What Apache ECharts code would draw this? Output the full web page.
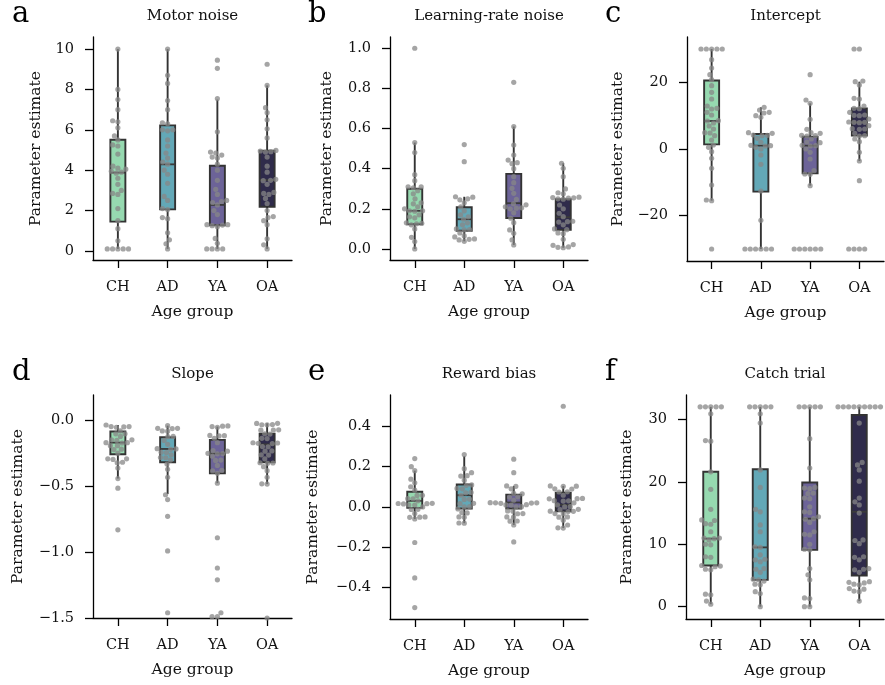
<!DOCTYPE html>
<html><head><meta charset="utf-8">
<script src="https://cdn.jsdelivr.net/npm/echarts@6/dist/echarts.min.js"></script>
<style>html,body{margin:0;padding:0;background:#fff}#c{width:885px;height:685px}</style>
</head><body><div id="c"></div>
<script>
// ---------- DATA ----------
const categories = ['CH', 'AD', 'YA', 'OA'];
const panelTitles = ['Motor noise', 'Learning-rate noise', 'Intercept', 'Slope', 'Reward bias', 'Catch trial'];
const panelLetters = ['a', 'b', 'c', 'd', 'e', 'f'];

// a: Motor noise
const motorCH = [10.0, 8.0, 7.5, 7.0, 6.45, 6.4, 6.1, 5.7, 5.5, 5.25, 5.2, 4.8, 4.2, 4.1, 4.05, 3.95, 3.9, 3.85, 3.6, 3.3, 3.0, 2.85, 2.8, 2.1, 1.5, 1.1, 0.5, 0.1, 0.1, 0.1, 0.1, 0.1];
const motorAD = [10.0, 8.7, 8.3, 7.45, 7.0, 6.35, 6.3, 6.0, 6.0, 5.95, 5.5, 5.2, 4.85, 4.6, 4.4, 4.3, 4.0, 3.8, 3.35, 2.7, 2.5, 2.1, 2.05, 1.65, 1.6, 0.9, 0.55, 0.35, 0.1];
const motorYA = [9.45, 9.05, 7.55, 5.9, 4.9, 4.85, 4.75, 4.65, 4.6, 4.3, 4.0, 3.5, 3.05, 2.8, 2.5, 2.45, 2.4, 2.28, 2.0, 1.8, 1.3, 1.3, 1.28, 1.25, 1.2, 0.62, 0.38, 0.1, 0.1, 0.1, 0.1];
const motorOA = [9.25, 8.2, 7.1, 6.85, 6.5, 6.05, 5.6, 4.98, 4.95, 4.92, 4.9, 4.65, 4.2, 3.9, 3.55, 3.5, 3.48, 3.3, 2.9, 2.85, 2.8, 2.6, 2.35, 2.0, 1.7, 1.65, 1.5, 1.3, 0.6, 0.3, 0.1];
// box stats: [low whisker, Q1, median, Q3, high whisker]
const motorBox = [[0.1, 1.45, 3.88, 5.51, 10.0], [0.1, 2.06, 4.29, 6.22, 10.0], [0.1, 1.27, 2.28, 4.22, 7.5], [0.1, 2.19, 3.51, 4.97, 8.2]];
const motorTicks = [0, 2, 4, 6, 8, 10];

// b: Learning-rate noise
const lrCH = [1.0, 0.53, 0.48, 0.37, 0.34, 0.31, 0.31, 0.305, 0.29, 0.275, 0.25, 0.23, 0.225, 0.21, 0.2, 0.19, 0.19, 0.188, 0.17, 0.16, 0.155, 0.13, 0.128, 0.125, 0.12, 0.1, 0.058, 0.037, 0.0];
const lrAD = [0.52, 0.435, 0.26, 0.258, 0.25, 0.245, 0.23, 0.21, 0.19, 0.17, 0.16, 0.148, 0.13, 0.12, 0.1, 0.097, 0.095, 0.08, 0.065, 0.06, 0.05, 0.048, 0.045, 0.038];
const lrYA = [0.83, 0.61, 0.518, 0.468, 0.443, 0.43, 0.425, 0.4, 0.36, 0.33, 0.302, 0.277, 0.247, 0.225, 0.22, 0.21, 0.205, 0.203, 0.2, 0.18, 0.153, 0.131, 0.095, 0.078, 0.045, 0.02];
const lrOA = [0.427, 0.402, 0.36, 0.299, 0.28, 0.275, 0.258, 0.256, 0.255, 0.254, 0.25, 0.248, 0.219, 0.2, 0.178, 0.161, 0.138, 0.136, 0.134, 0.12, 0.1, 0.096, 0.08, 0.076, 0.048, 0.022, 0.018, 0.01, 0.008, 0.006];
const lrBox = [[0.0, 0.123, 0.19, 0.30, 0.53], [0.038, 0.091, 0.148, 0.208, 0.26], [0.02, 0.154, 0.228, 0.374, 0.61], [0.006, 0.095, 0.158, 0.248, 0.427]];
const lrTicks = [0.0, 0.2, 0.4, 0.6, 0.8, 1.0];

// c: Intercept
const intCH = [30, 30, 30, 30, 30, 26.8, 24.3, 22.3, 20.8, 19.0, 17.0, 15.0, 12.9, 12.2, 12.0, 11.0, 10.2, 8.5, 8.4, 7.8, 6.9, 6.0, 4.9, 4.8, 4.0, 2.7, 1.2, 0.5, -0.8, -2.8, -5.8, -10.8, -15.3, -15.5, -30];
const intAD = [12.5, 11.7, 11.0, 10.8, 10.0, 9.5, 4.9, 4.7, 4.2, 4.1, 4.0, 3.2, 2.0, 1.1, 1.0, 0.9, 0.5, 0.0, -1.8, -4.6, -12.6, -21.4, -30, -30, -30, -30, -30, -30];
const intYA = [22.3, 14.7, 13.7, 8.9, 5.9, 4.9, 4.7, 4.1, 4.0, 3.9, 3.0, 2.1, 1.9, 1.1, 1.0, 0.9, 0.0, -1.0, -3.0, -6.5, -7.5, -7.6, -11.0, -30, -30, -30, -30, -30, -30];
const intOA = [30, 30, 20.4, 20.2, 19.2, 15.2, 15.0, 12.9, 12.2, 12.1, 11.0, 10.2, 10.1, 10.0, 9.0, 8.1, 8.0, 8.0, 7.9, 7.0, 6.1, 6.0, 5.9, 4.7, 4.0, 3.9, 3.0, 2.2, -1.0, -3.6, -9.5, -30, -30, -30, -30];
const intBox = [[-15.5, 1.4, 8.4, 20.55, 30], [-30, -12.8, 1.0, 4.5, 12.5], [-11.0, -7.3, 1.0, 3.7, 13.7], [-3.6, 4.0, 8.0, 12.2, 20.2]];
const intTicks = [-20, 0, 20];

// d: Slope
const slopeCH = [-0.033, -0.045, -0.045, -0.048, -0.05, -0.078, -0.1, -0.1, -0.12, -0.146, -0.146, -0.15, -0.167, -0.167, -0.17, -0.19, -0.19, -0.217, -0.22, -0.247, -0.29, -0.29, -0.295, -0.316, -0.32, -0.36, -0.44, -0.513, -0.83];
const slopeAD = [-0.038, -0.058, -0.058, -0.06, -0.078, -0.08, -0.12, -0.122, -0.15, -0.18, -0.213, -0.215, -0.218, -0.24, -0.242, -0.26, -0.28, -0.282, -0.3, -0.33, -0.37, -0.43, -0.563, -0.6, -0.727, -0.99, -1.46];
const slopeYA = [-0.04, -0.042, -0.045, -0.05, -0.112, -0.114, -0.116, -0.134, -0.167, -0.228, -0.232, -0.248, -0.25, -0.252, -0.27, -0.3, -0.302, -0.34, -0.378, -0.382, -0.4, -0.475, -0.89, -1.12, -1.21, -1.46, -1.49, -1.49];
const slopeOA = [-0.02, -0.021, -0.03, -0.031, -0.032, -0.07, -0.071, -0.072, -0.1, -0.102, -0.134, -0.136, -0.168, -0.17, -0.172, -0.174, -0.197, -0.199, -0.23, -0.232, -0.26, -0.262, -0.29, -0.32, -0.322, -0.324, -0.35, -0.38, -0.43, -0.48, -0.482, -1.5];
const slopeBox = [[-0.44, -0.255, -0.167, -0.083, -0.033], [-0.558, -0.316, -0.215, -0.126, -0.038], [-0.475, -0.4, -0.25, -0.146, -0.045], [-0.482, -0.316, -0.18, -0.1, -0.02]];
const slopeTicks = [-1.5, -1.0, -0.5, 0.0];

// e: Reward bias
const rewCH = [0.24, 0.2, 0.18, 0.138, 0.12, 0.1, 0.083, 0.058, 0.057, 0.041, 0.04, 0.03, 0.018, 0.017, 0.016, 0.015, 0.01, 0.009, 0.0, -0.012, -0.013, -0.033, -0.05, -0.051, -0.052, -0.06, -0.177, -0.353, -0.5];
const rewAD = [0.26, 0.19, 0.17, 0.155, 0.153, 0.133, 0.109, 0.107, 0.092, 0.09, 0.072, 0.07, 0.058, 0.039, 0.037, 0.018, 0.016, 0.001, 0.0, -0.01, -0.028, -0.03, -0.05, -0.052, -0.08, -0.081];
const rewYA = [0.237, 0.17, 0.104, 0.102, 0.09, 0.067, 0.065, 0.05, 0.049, 0.033, 0.021, 0.02, 0.02, 0.019, 0.018, 0.011, 0.01, 0.009, 0.001, 0.0, -0.02, -0.021, -0.033, -0.034, -0.05, -0.051, -0.07, -0.071, -0.09, -0.174];
const rewOA = [0.5, 0.104, 0.103, 0.102, 0.09, 0.089, 0.075, 0.074, 0.058, 0.042, 0.041, 0.04, 0.031, 0.03, 0.029, 0.02, 0.01, 0.001, 0.0, -0.012, -0.013, -0.021, -0.022, -0.023, -0.033, -0.034, -0.05, -0.051, -0.066, -0.09, -0.104, -0.105];
const rewBox = [[-0.06, -0.005, 0.03, 0.075, 0.18], [-0.081, -0.008, 0.058, 0.111, 0.252], [-0.09, -0.008, 0.022, 0.061, 0.104], [-0.105, -0.022, 0.01, 0.07, 0.104]];
const rewTicks = [-0.4, -0.2, 0.0, 0.2, 0.4];

// f: Catch trial
const catchCH = [32, 32, 32, 32, 32, 30.9, 26.6, 26.5, 21.6, 18.8, 15.6, 13.9, 13.8, 13.3, 13.2, 12.0, 11.0, 11.0, 10.9, 10.7, 10.0, 9.9, 8.0, 7.9, 6.6, 6.5, 6.4, 6.0, 5.9, 2.0, 1.9, 0.9, 0.4];
const catchAD = [32, 32, 32, 32, 32, 30.9, 29.4, 21.9, 19.1, 15.6, 15.2, 13.1, 12.0, 9.6, 9.5, 8.3, 7.6, 7.5, 7.2, 6.1, 6.0, 5.5, 4.4, 4.3, 4.1, 3.6, 3.5, 2.4, 2.1, 0.0];
const catchYA = [32, 32, 32, 32, 32, 26.9, 22.2, 19.1, 19.0, 18.9, 18.2, 18.1, 17.4, 17.3, 16.0, 15.2, 15.1, 14.4, 14.1, 14.0, 13.5, 12.0, 11.6, 11.5, 10.0, 9.2, 9.1, 6.1, 5.1, 4.3, 1.4, 1.3, 0.0, 0.0];
const catchOA = [32, 32, 32, 32, 32, 32, 32, 32, 32, 29.4, 23.1, 22.7, 21.9, 20.1, 17.4, 16.8, 16.3, 15.0, 10.7, 10.6, 10.1, 8.0, 7.9, 7.5, 6.1, 6.0, 5.9, 5.5, 4.0, 3.9, 3.8, 3.6, 3.5, 2.9, 2.8, 2.5, 2.4, 0.9];
const catchBox = [[0.4, 6.6, 10.9, 21.6, 32], [0.0, 4.3, 9.5, 22.0, 32], [0.0, 9.1, 14.1, 19.9, 32], [0.9, 5.0, 15.2, 30.7, 32]];
const catchTicks = [0, 10, 20, 30];

// ---------- STYLE / LAYOUT ----------
const groupColors = ['#96d9b0', '#63a8b7', '#6c6398', '#2f2b4b'];
const FONT = 'DejaVu Serif';
const grids = [
  {left: 93, top: 37, width: 199, height: 223},
  {left: 390, top: 37, width: 198, height: 223},
  {left: 687, top: 37, width: 197, height: 224},
  {left: 93, top: 395, width: 199, height: 223},
  {left: 390, top: 395, width: 198, height: 224},
  {left: 686, top: 395, width: 198, height: 224}
];
const yRanges = [[-0.45, 10.6], [-0.055, 1.056], [-33.6, 33.6], [-1.5, 0.195], [-0.557, 0.556], [-1.97, 33.9]];
const yNameGaps = [49, 55, 61, 67, 69, 51];
const decimals = [0, 1, 0, 1, 1, 0];

const panels = [
  {groups: [motorCH, motorAD, motorYA, motorOA], box: motorBox, ticks: motorTicks},
  {groups: [lrCH, lrAD, lrYA, lrOA], box: lrBox, ticks: lrTicks},
  {groups: [intCH, intAD, intYA, intOA], box: intBox, ticks: intTicks},
  {groups: [slopeCH, slopeAD, slopeYA, slopeOA], box: slopeBox, ticks: slopeTicks},
  {groups: [rewCH, rewAD, rewYA, rewOA], box: rewBox, ticks: rewTicks},
  {groups: [catchCH, catchAD, catchYA, catchOA], box: catchBox, ticks: catchTicks}
];

const DOT = 5.3;   // swarm spacing (px)
function swarm(values, pxPerUnit, d) {
  const idx = values.map((v, i) => i).sort((a, b) => values[a] - values[b]);
  const placed = [];
  const off = new Array(values.length).fill(0);
  for (const i of idx) {
    const y = values[i] * pxPerUnit;
    const near = placed.filter(p => Math.abs(p.y - y) < d);
    const cands = [0];
    near.forEach(p => {
      const dx = Math.sqrt(Math.max(0, d * d - (p.y - y) * (p.y - y)));
      cands.push(p.x + dx + 0.01, p.x - dx - 0.01);
    });
    cands.sort((a, b) => Math.abs(a) - Math.abs(b) || a - b);
    let x = 0;
    for (const c of cands) {
      if (near.every(p => (p.x - c) * (p.x - c) + (p.y - y) * (p.y - y) >= d * d - 0.05)) { x = c; break; }
    }
    placed.push({x, y});
    off[i] = x;
  }
  return off;
}

const fmt = (v, dec) => v.toFixed(dec).replace('-', '\u2212');

const gridOpt = [], xAxes = [], yAxes = [], series = [], graphics = [];
panels.forEach((p, k) => {
  const g = grids[k];
  gridOpt.push({left: g.left, top: g.top, width: g.width, height: g.height, containLabel: false});
  xAxes.push({
    type: 'category', gridIndex: k, data: categories, boundaryGap: true,
    axisLine: {show: true, onZero: false, lineStyle: {color: '#000', width: 1.3}},
    axisTick: {show: true, alignWithLabel: true, length: 8, lineStyle: {color: '#000', width: 1.3}},
    axisLabel: {color: '#111', fontFamily: FONT, fontSize: 14.5, margin: 20},
    splitLine: {show: false},
    name: 'Age group', nameLocation: 'middle', nameGap: 44,
    nameTextStyle: {color: '#111', fontFamily: FONT, fontSize: 15.5}
  });
  yAxes.push({
    type: 'value', gridIndex: k, min: yRanges[k][0], max: yRanges[k][1],
    axisLine: {show: true, onZero: false, lineStyle: {color: '#000', width: 1.3}},
    axisTick: {show: true, length: 8, customValues: p.ticks, lineStyle: {color: '#000', width: 1.3}},
    axisLabel: {color: '#111', fontFamily: FONT, fontSize: 14.5, margin: 19, customValues: p.ticks,
      formatter: (v) => fmt(v, decimals[k])},
    splitLine: {show: false},
    name: 'Parameter estimate', nameLocation: 'middle', nameGap: yNameGaps[k],
    nameTextStyle: {color: '#111', fontFamily: FONT, fontSize: 15.5}
  });
  // boxes
  series.push({
    type: 'custom', xAxisIndex: k, yAxisIndex: k, z: 2,
    data: p.box.map((b, i) => [i].concat(b)),
    encode: {x: 0, y: [1, 2, 3, 4, 5]},
    renderItem: function (params, api) {
      const c = api.value(0);
      const lo = api.coord([c, api.value(1)]);
      const q1 = api.coord([c, api.value(2)]);
      const md = api.coord([c, api.value(3)]);
      const q3 = api.coord([c, api.value(4)]);
      const hi = api.coord([c, api.value(5)]);
      const x = lo[0], h = 7.5, ec = '#333333';
      return {type: 'group', children: [
        {type: 'line', shape: {x1: x, y1: lo[1], x2: x, y2: q1[1]}, style: {stroke: ec, lineWidth: 1.9}},
        {type: 'line', shape: {x1: x, y1: q3[1], x2: x, y2: hi[1]}, style: {stroke: ec, lineWidth: 1.9}},
        {type: 'rect', shape: {x: x - h, y: q3[1], width: 2 * h, height: q1[1] - q3[1]},
          style: {fill: groupColors[params.dataIndex], stroke: ec, lineWidth: 1.9}},
        {type: 'line', shape: {x1: x - h, y1: md[1], x2: x + h, y2: md[1]}, style: {stroke: '#3a3a3a', lineWidth: 1.8}}
      ]};
    }
  });
  // swarm points
  const ppu = g.height / (yRanges[k][1] - yRanges[k][0]);
  const pts = [];
  p.groups.forEach((vals, gi) => {
    const off = swarm(vals, ppu, DOT);
    vals.forEach((v, j) => pts.push([gi, v, off[j]]));
  });
  series.push({
    type: 'custom', xAxisIndex: k, yAxisIndex: k, z: 3,
    data: pts, encode: {x: 0, y: 1},
    renderItem: function (params, api) {
      const c = api.coord([api.value(0), api.value(1)]);
      return {type: 'circle', shape: {cx: c[0] + api.value(2), cy: c[1], r: 2.6},
        style: {fill: 'rgba(135,135,135,0.75)'}};
    }
  });
  // title and panel letter
  graphics.push({type: 'text', x: g.left + g.width / 2, y: g.top - 21,
    style: {text: panelTitles[k], fill: '#111', font: '15px "' + FONT + '"', textAlign: 'center', textVerticalAlign: 'middle'}});
  graphics.push({type: 'text', x: [12, 308, 605, 12, 308, 605][k], y: g.top - 8,
    style: {text: panelLetters[k], fill: '#000', font: '29px "' + FONT + '"', textAlign: 'left', textVerticalAlign: 'bottom'}});
});

const chart = echarts.init(document.getElementById('c'), null, {renderer: 'canvas'});
chart.setOption({
  animation: false,
  backgroundColor: '#fff',
  grid: gridOpt, xAxis: xAxes, yAxis: yAxes, series: series,
  graphic: {elements: graphics}
});
</script></body></html>
